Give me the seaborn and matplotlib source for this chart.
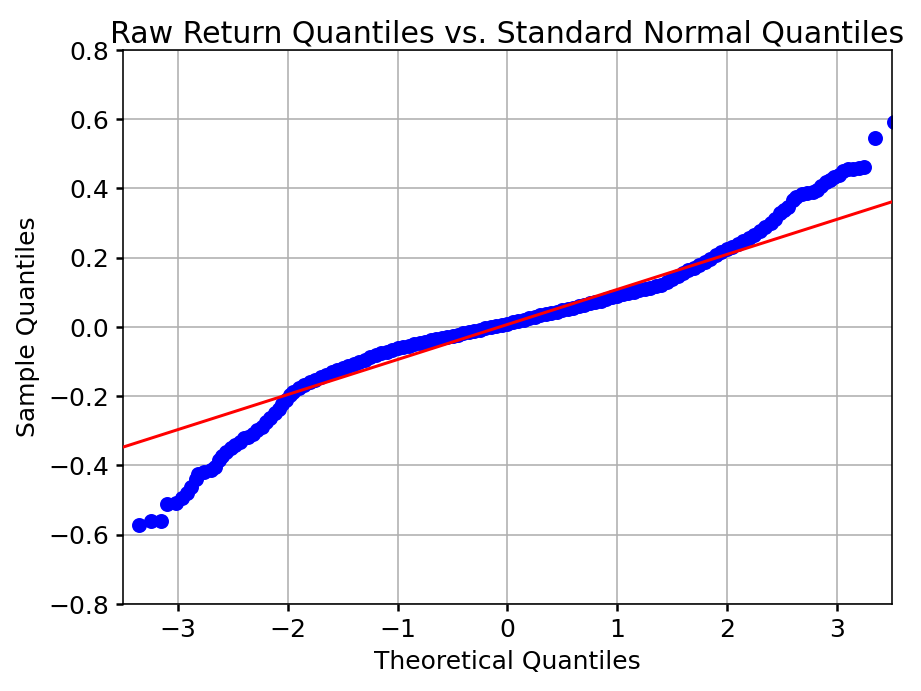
import matplotlib
matplotlib.use("Agg")
import matplotlib.pyplot as plt
import seaborn as sns

# points (theoretical vs sample quantiles)
theoretical_q = [
    -3.355, -3.25, -3.16, -3.10, -3.02, -2.96, -2.92, -2.88, -2.84, -2.82,
    -2.76, -2.70, -2.66, -2.63, -2.60, -2.56, -2.52, -2.48, -2.44, -2.40,
    -2.36, -2.32, -2.28, -2.24, -2.20, -2.16, -2.12, -2.08, -2.05, -2.02,
    -1.98, -1.95, -1.90, -1.85, -1.80, -1.75, -1.70, -1.65, -1.60, -1.55,
    -1.50, -1.45, -1.40, -1.35, -1.30, -1.25, -1.20, -1.15, -1.10, -1.05,
    -1.00, -0.95, -0.90, -0.85, -0.80, -0.75, -0.70, -0.65, -0.60, -0.55,
    -0.50, -0.45, -0.40, -0.35, -0.30, -0.25, -0.20, -0.15, -0.10, -0.05,
    0.00, 0.05, 0.10, 0.15, 0.20, 0.25, 0.30, 0.35, 0.40, 0.45,
    0.50, 0.55, 0.60, 0.65, 0.70, 0.75, 0.80, 0.85, 0.90, 0.95,
    1.00, 1.05, 1.10, 1.15, 1.20, 1.25, 1.30, 1.35, 1.40, 1.45,
    1.50, 1.55, 1.60, 1.65, 1.70, 1.75, 1.80, 1.85, 1.90, 1.95,
    2.00, 2.05, 2.10, 2.15, 2.20, 2.25, 2.30, 2.35, 2.40, 2.44,
    2.48, 2.52, 2.56, 2.60, 2.63, 2.68, 2.73, 2.78, 2.82, 2.86,
    2.90, 2.94, 2.98, 3.02, 3.06, 3.10, 3.15, 3.20, 3.25, 3.345,
    3.52,
]
sample_q = [
    -0.572, -0.560, -0.560, -0.510, -0.509, -0.495, -0.480, -0.462, -0.440, -0.426,
    -0.418, -0.414, -0.405, -0.385, -0.372, -0.360, -0.350, -0.340, -0.333, -0.322,
    -0.317, -0.308, -0.298, -0.288, -0.275, -0.262, -0.250, -0.236, -0.222, -0.210,
    -0.198, -0.187, -0.177, -0.168, -0.159, -0.152, -0.145, -0.138, -0.131, -0.124,
    -0.118, -0.112, -0.106, -0.100, -0.095, -0.088, -0.082, -0.076, -0.071, -0.066,
    -0.062, -0.058, -0.054, -0.050, -0.047, -0.043, -0.039, -0.036, -0.032, -0.029,
    -0.025, -0.022, -0.018, -0.015, -0.011, -0.008, -0.004, -0.001, 0.002, 0.006,
    0.009, 0.013, 0.017, 0.021, 0.025, 0.029, 0.033, 0.037, 0.041, 0.044,
    0.048, 0.052, 0.056, 0.060, 0.064, 0.068, 0.072, 0.076, 0.080, 0.085,
    0.090, 0.094, 0.098, 0.102, 0.106, 0.109, 0.113, 0.117, 0.122, 0.130,
    0.138, 0.146, 0.155, 0.163, 0.171, 0.179, 0.188, 0.197, 0.207, 0.216,
    0.224, 0.232, 0.240, 0.248, 0.256, 0.265, 0.276, 0.288, 0.300, 0.312,
    0.328, 0.338, 0.346, 0.365, 0.376, 0.384, 0.388, 0.390, 0.395, 0.408,
    0.418, 0.425, 0.432, 0.440, 0.449, 0.455, 0.456, 0.458, 0.462, 0.545,
    0.592,
]

# reference line end points
fit_x = [-3.6, 3.6]
fit_y = [-0.357, 0.371]

sns.set_theme(style="ticks", rc={
    "axes.edgecolor": "black",
    "axes.linewidth": 0.8,
    "axes.grid": True,
    "grid.color": "#b0b0b0",
    "grid.linewidth": 0.8,
    "text.color": "black",
    "axes.labelcolor": "black",
    "xtick.color": "black",
    "ytick.color": "black",
    "xtick.major.size": 3.5,
    "ytick.major.size": 3.5,
    "font.size": 12.5,
    "axes.labelsize": 12.5,
    "axes.titlesize": 15,
    "xtick.labelsize": 12.5,
    "ytick.labelsize": 12.5,
})
plt.rcParams['font.family'] = ['DejaVu Sans']

fig, ax = plt.subplots(figsize=(6.4, 4.8), dpi=144)

sns.scatterplot(x=theoretical_q, y=sample_q, color="blue", edgecolor="blue",
                s=42, linewidth=1, ax=ax, zorder=2)
sns.lineplot(x=fit_x, y=fit_y, color="red", linewidth=1.5, ax=ax, zorder=3)

ax.set_xlim(-3.5, 3.5)
ax.set_ylim(-0.8, 0.8)
ax.set_xticks([-3, -2, -1, 0, 1, 2, 3])
ax.set_yticks([-0.8, -0.6, -0.4, -0.2, 0.0, 0.2, 0.4, 0.6, 0.8])
ax.set_axisbelow(True)
ax.set_xlabel("Theoretical Quantiles")
ax.set_ylabel("Sample Quantiles")
ax.set_title("Raw Return Quantiles vs. Standard Normal Quantiles", pad=4)

fig.subplots_adjust(left=0.1337, right=0.9674, top=0.9276, bottom=0.1259)
plt.savefig("out.png", dpi=144)
